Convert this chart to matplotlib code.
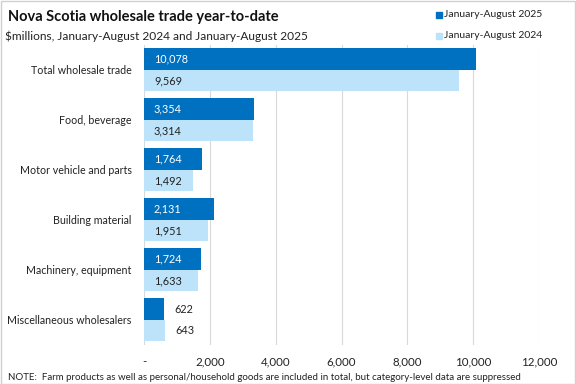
import matplotlib
matplotlib.use("Agg")
import matplotlib.pyplot as plt
import numpy as np

plt.rcParams['font.family'] = ['Lato', 'DejaVu Sans']

categories = ["Total wholesale trade", "Food, beverage", "Motor vehicle and parts",
              "Building material", "Machinery, equipment", "Miscellaneous wholesalers"]
ytd_2025 = [10078, 3354, 1764, 2131, 1724, 622]
ytd_2024 = [9569, 3314, 1492, 1951, 1633, 643]
xticks = [0, 2000, 4000, 6000, 8000, 10000, 12000]
xtick_labels = ["-", "2,000", "4,000", "6,000", "8,000", "10,000", "12,000"]

dark = "#0070C0"
light = "#BDE3FA"

fig = plt.figure(figsize=(5.76, 3.84), dpi=100)
ax = fig.add_axes([0.25, 0.102, 0.686, 0.781])

y = np.arange(len(categories))
h = 0.43
ax.barh(y - h / 2, ytd_2025, height=h, color=dark, zorder=3)
ax.barh(y + h / 2, ytd_2024, height=h, color=light, zorder=3)

fs_val = 7.8
for yi, v in zip(y, ytd_2025):
    if v > 1000:
        ax.text(300, yi - h / 2, f"{v:,}", color="white", va="center", ha="left", fontsize=fs_val, zorder=4)
    else:
        ax.text(v + 300, yi - h / 2, f"{v:,}", color="#222222", va="center", ha="left", fontsize=fs_val, zorder=4)
for yi, v in zip(y, ytd_2024):
    if v > 1000:
        ax.text(300, yi + h / 2, f"{v:,}", color="#222222", va="center", ha="left", fontsize=fs_val, zorder=4)
    else:
        ax.text(v + 300, yi + h / 2, f"{v:,}", color="#222222", va="center", ha="left", fontsize=fs_val, zorder=4)

ax.set_xlim(0, 12000)
ax.set_ylim(len(categories) - 0.5, -0.5)
ax.set_xticks(xticks)
ax.set_xticklabels(xtick_labels, fontsize=8.3, color="#222222")
ax.set_yticks(y)
ax.set_yticklabels(categories, fontsize=7.7, color="#222222")
ax.tick_params(axis="y", length=0, pad=9)
ax.tick_params(axis="x", length=0, pad=8)
ax.xaxis.grid(True, color="#D9D9D9", linewidth=0.8, zorder=0)
for s in ax.spines.values():
    s.set_visible(False)

fig.text(0.014, 0.975, "Nova Scotia wholesale trade year-to-date", fontsize=10.5,
         fontweight="bold", va="top", ha="left", color="#111111")
fig.text(0.008, 0.92, "$millions, January-August 2024 and January-August 2025", fontsize=8.6,
         va="top", ha="left", color="#222222")
fig.text(0.014, 0.006, "NOTE:  Farm products as well as personal/household goods are included in total, but category-level data are suppressed",
         fontsize=7.0, va="bottom", ha="left", color="#222222")

# legend
fig.patches.append(plt.Rectangle((0.757, 0.953), 0.01, 0.016, color=dark, transform=fig.transFigure))
fig.patches.append(plt.Rectangle((0.757, 0.898), 0.01, 0.016, color=light, transform=fig.transFigure))
fig.text(0.771, 0.962, "January-August 2025", fontsize=7.5, va="center", ha="left", color="#222222")
fig.text(0.771, 0.907, "January-August 2024", fontsize=7.5, va="center", ha="left", color="#222222")

fig.patches.append(plt.Rectangle((0.001, 0.001), 0.997, 0.997, fill=False, edgecolor="#D0D0D0",
                                 linewidth=1, transform=fig.transFigure))

fig.savefig("out.png", dpi=100)
